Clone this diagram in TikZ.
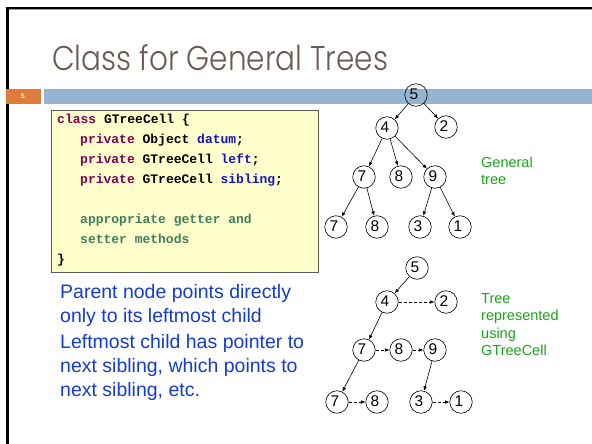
\documentclass[tikz,border=0pt]{standalone}
\usepackage{graphicx}
\usepackage{fontspec}
\setmainfont{Liberation Sans}
\newfontfamily\titlefont{Poppins}[UprightFont=* Light]
\newfontfamily\codefont{Liberation Mono}
\usetikzlibrary{arrows.meta}
\definecolor{titlecol}{RGB}{107,91,83}
\definecolor{orangebox}{RGB}{224,123,57}
\definecolor{bluebar}{RGB}{148,180,210}
\definecolor{codefill}{RGB}{255,255,204}
\definecolor{codeborder}{RGB}{90,90,90}
\definecolor{kw}{RGB}{127,0,85}
\definecolor{fld}{RGB}{20,20,192}
\definecolor{cmt}{RGB}{63,127,95}
\definecolor{bodyblue}{RGB}{20,60,210}
\definecolor{labgreen}{RGB}{25,165,25}
\begin{document}
\begin{tikzpicture}[x=1pt,y=-1pt,
  codeline/.style={anchor=base west, inner sep=0, font=\codefont\bfseries\fontsize{13}{15}\selectfont},
  bodyline/.style={anchor=base west, inner sep=0, text=bodyblue, font=\fontsize{19.5}{23}\selectfont},
  greenline/.style={anchor=base west, inner sep=0, text=labgreen, font=\fontsize{14.5}{17}\selectfont},
  tn/.style={circle, draw, line width=0.6pt, minimum size=22.5pt, inner sep=0, font=\fontsize{15.5}{16}\selectfont},
  tarrow/.style={line width=0.6pt, -{Latex[length=4.5pt,width=3.6pt]}},
  sarrow/.style={tarrow, dash pattern=on 3pt off 2pt}
]
\useasboundingbox (0,0) rectangle (592,444);
\fill[white] (0,0) rectangle (592,444);
% slide frame
\draw[black!40, line width=1pt] (9,10) -- (592,10);
\draw[black, line width=2.6pt] (6,8) -- (592,8);
\draw[black, line width=3pt] (7.5,8) -- (7.5,444);
% title
\node[anchor=base west, inner sep=0, text=titlecol] (title) at (52,71)
  {\resizebox{336pt}{26pt}{\titlefont Class for General Trees}};
% bar
\fill[orangebox] (6,89) rectangle (41,103.5);
\fill[bluebar] (44,89) rectangle (592,103.5);
\node[inner sep=0, text=white, font=\bfseries\fontsize{6.5}{7}\selectfont] (num) at (23,96.5) {5};
% code box
\node[draw=codeborder, line width=1.2pt, fill=codefill, anchor=north west, minimum width=267pt, minimum height=162pt, inner sep=0] (code) at (51,110) {};
\node[codeline] (c1) at (57,123) {\textcolor{kw}{class} GTreeCell \{};
\node[codeline] (c2) at (80,143) {\textcolor{kw}{private} Object \textcolor{fld}{datum};};
\node[codeline] (c3) at (80,163) {\textcolor{kw}{private} GTreeCell \textcolor{fld}{left};};
\node[codeline] (c4) at (80,183) {\textcolor{kw}{private} GTreeCell \textcolor{fld}{sibling};};
\node[codeline, text=cmt] (c5) at (80,223) {appropriate getter and};
\node[codeline, text=cmt] (c6) at (80,243) {setter methods};
\node[codeline] (c7) at (57,263) {\}};
% body text
\node[bodyline] (p1) at (60,298) {Parent node points directly};
\node[bodyline] (p2) at (60,322) {only to its leftmost child};
\node[bodyline] (p3) at (60,348) {Leftmost child has pointer to};
\node[bodyline] (p4) at (60,372) {next sibling, which points to};
\node[bodyline] (p5) at (60,396) {next sibling, etc.};
% general tree
\newcommand{\dg}[1]{\hspace*{-4pt}\raisebox{1.5pt}{#1}}
\node[tn] (a5) at (416,95) {\dg{5}};
\node[tn] (a4) at (387,128) {\dg{4}};
\node[tn] (a2) at (446,127) {\dg{2}};
\node[tn] (a7) at (364,177) {\dg{7}};
\node[tn] (a8) at (401,177) {\dg{8}};
\node[tn] (a9) at (435,177) {\dg{9}};
\node[tn] (a7b) at (336,227) {\dg{7}};
\node[tn] (a8b) at (377,227) {\dg{8}};
\node[tn] (a3) at (420,227) {\dg{3}};
\node[tn] (a1) at (460,227) {\dg{1}};
\draw[tarrow] (a5) -- (a4);
\draw[tarrow] (a5) -- (a2);
\draw[tarrow] (a4) -- (a7);
\draw[tarrow] (a4) -- (a8);
\draw[tarrow] (a4) -- (a9);
\draw[tarrow] (a7) -- (a7b);
\draw[tarrow] (a7) -- (a8b);
\draw[tarrow] (a9) -- (a3);
\draw[tarrow] (a9) -- (a1);
\node[greenline] (g1) at (481,167) {General};
\node[greenline] (g2) at (481,184) {tree};
% GTreeCell tree
\node[tn] (b5) at (417,268) {\dg{5}};
\node[tn] (b4) at (387,302) {\dg{4}};
\node[tn] (b2) at (446,302) {\dg{2}};
\node[tn] (b7) at (364,350) {\dg{7}};
\node[tn] (b8) at (401,350) {\dg{8}};
\node[tn] (b9) at (435,350) {\dg{9}};
\node[tn] (b7b) at (337,402) {\dg{7}};
\node[tn] (b8b) at (377,402) {\dg{8}};
\node[tn] (b3) at (421,402) {\dg{3}};
\node[tn] (b1) at (461,402) {\dg{1}};
\draw[tarrow] (b5) -- (b4);
\draw[sarrow] (b4) -- (b2);
\draw[tarrow] (b4) -- (b7);
\draw[sarrow] (b7) -- (b8);
\draw[sarrow] (b8) -- (b9);
\draw[tarrow] (b7) -- (b7b);
\draw[tarrow] (b9) -- (b3);
\draw[sarrow] (b7b) -- (b8b);
\draw[sarrow] (b3) -- (b1);
\node[greenline] (h1) at (481,303) {Tree};
\node[greenline] (h2) at (481,320) {represented};
\node[greenline] (h3) at (481,338) {using};
\node[greenline] (h4) at (481,355) {GTreeCell};
\end{tikzpicture}
\end{document}
